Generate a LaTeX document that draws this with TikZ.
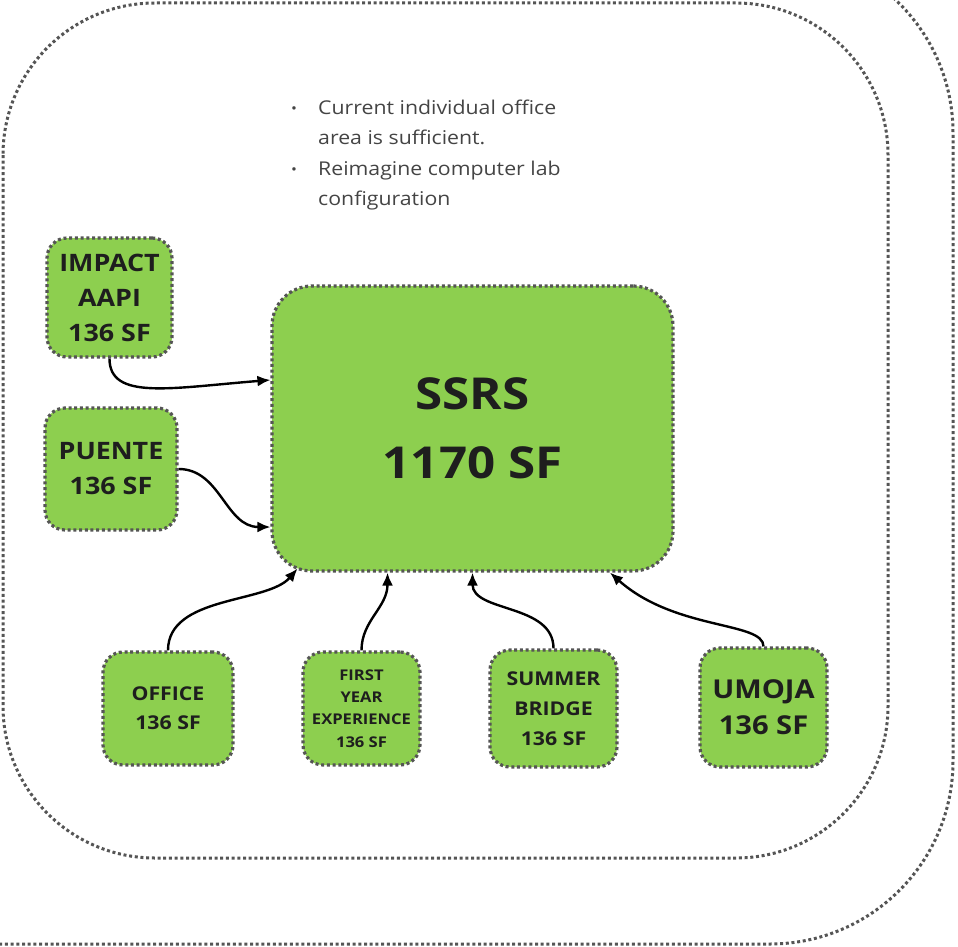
\documentclass[tikz,border=0pt]{standalone}
\usepackage{fontspec}
\setmainfont{Open Sans}[FakeStretch=1.12]
\usetikzlibrary{arrows.meta,calc}
\definecolor{boxgreen}{HTML}{8DCF4F}
\definecolor{dotgray}{HTML}{555555}
\definecolor{ink}{HTML}{1E1E1E}
\definecolor{notegray}{HTML}{444444}
\begin{document}
\begin{tikzpicture}[x=1pt,y=-1pt,
  frame/.style={draw=dotgray, line width=3pt, dash pattern=on 3pt off 2.7pt, rounded corners=#1},
  room/.style={draw=dotgray, fill=boxgreen, line width=3.2pt, dash pattern=on 3pt off 2.7pt,
    rounded corners=20pt, inner sep=0pt, align=center, text=ink},
  link/.style={draw=black, line width=2.4pt, -{Latex[length=13pt,width=11pt]}},
]
\useasboundingbox (0,0) rectangle (958,947);
\begin{scope}
\clip (0,0) rectangle (958,947);
\draw[frame=183pt] (-300,-50) rectangle (953,944);
\draw[frame=152pt] (3,3) rectangle (888,858);
\end{scope}

\node[anchor=west, text=notegray, inner sep=0pt, font=\fontsize{19}{30.3}\selectfont] (notes) at (291,154)
  {\begin{tabular}{@{}l@{}l@{}}
   \makebox[27pt][l]{\raisebox{1pt}{\fontsize{14}{14}\selectfont •}} & Current individual office\\
    & area is sufficient.\\
   \makebox[27pt][l]{\raisebox{1pt}{\fontsize{14}{14}\selectfont •}} & Reimagine computer lab\\
    & configuration
   \end{tabular}};

\node[room, minimum width=401pt, minimum height=285pt, rounded corners=40pt,
  font=\bfseries\fontsize{44}{69}\selectfont] (ssrs) at (472.5,428.5) {SSRS\\1170 SF};

\node[room, minimum width=125pt, minimum height=119pt,
  font=\bfseries\fontsize{24}{35}\selectfont] (impact) at (109.5,297.5) {IMPACT\\AAPI\\136 SF};
\node[room, minimum width=132pt, minimum height=122pt,
  font=\bfseries\fontsize{24}{35}\selectfont] (puente) at (111,469) {PUENTE\\136 SF};
\node[room, minimum width=130pt, minimum height=113pt,
  font=\bfseries\fontsize{19}{29}\selectfont] (office) at (168,708.5) {OFFICE\\136 SF};
\node[room, minimum width=117pt, minimum height=113pt,
  font=\bfseries\fontsize{14.8}{22.3}\selectfont] (first) at (361.5,708.5) {FIRST\\YEAR\\EXPERIENCE\\136 SF};
\node[room, minimum width=127pt, minimum height=117pt,
  font=\bfseries\fontsize{19}{30}\selectfont] (summer) at (553.5,708.5) {SUMMER\\BRIDGE\\136 SF};
\node[room, minimum width=127pt, minimum height=119pt,
  font=\bfseries\fontsize{26}{36}\selectfont] (umoja) at (763.5,707.5) {UMOJA\\136 SF};

\draw[link] (impact.south) .. controls +(0,42) and +(-100,8) .. ([yshift=48.5pt]ssrs.west);
\draw[link] (puente.east) .. controls +(42,0) and +(-45,0) .. ([yshift=-98.5pt]ssrs.west);
\draw[link] (office.north) .. controls +(0,-55) and +(-30,35) .. ([xshift=-175pt,yshift=4pt]ssrs.south);
\draw[link] (first.north) .. controls +(0,-30) and +(0,35) .. ([xshift=-85pt]ssrs.south);
\draw[link] (summer.north) .. controls +(0,-45) and +(0,40) .. (ssrs.south);
\draw[link] (umoja.north) .. controls +(0,-25) and +(65,58) .. ([xshift=137.5pt]ssrs.south);
\end{tikzpicture}
\end{document}
